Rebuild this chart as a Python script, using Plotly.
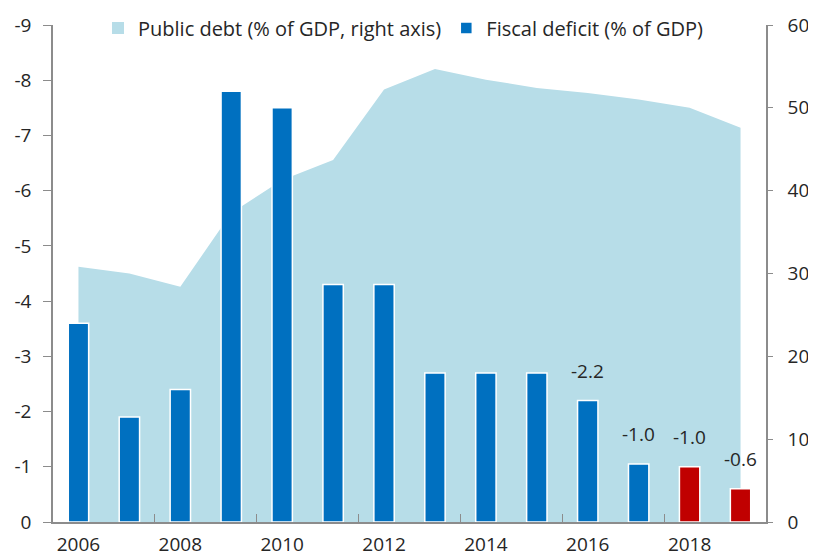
import plotly.graph_objects as go

years = list(range(2006, 2020))
debt = [30.8, 30.0, 28.4, 37.3, 41.3, 43.7, 52.2, 54.7, 53.4, 52.4, 51.8, 51.0, 50.0, 47.6]
deficit = [-3.6, -1.9, -2.4, -7.8, -7.5, -4.3, -4.3, -2.7, -2.7, -2.7, -2.2, -1.05, -1.0, -0.6]
deficit_labels = ["", "", "", "", "", "", "", "", "", "", "-2.2", "-1.0", "-1.0", "-0.6"]
forecast_years = [2018, 2019]
left_ticks = [0, -1, -2, -3, -4, -5, -6, -7, -8, -9]
right_ticks = [0, 10, 20, 30, 40, 50, 60]
x_labels = [2006, 2008, 2010, 2012, 2014, 2016, 2018]

FONT = "Open Sans"
TXT = "#262626"
AXC = "#8C8C8C"
DEBT_C = "#B7DDE8"

blue_x = [y for y in years if y not in forecast_years]
red_x = [y for y in years if y in forecast_years]
blue_v = [v for y, v in zip(years, deficit) if y not in forecast_years]
red_v = [v for y, v in zip(years, deficit) if y in forecast_years]

fig = go.Figure()
fig.add_trace(go.Scatter(
    x=years, y=debt, mode="lines", fill="tozeroy",
    fillcolor=DEBT_C, line=dict(width=0, color=DEBT_C),
    name="Public debt (% of GDP, right axis)", yaxis="y", showlegend=False,
))
# legend-only entry so the debt key is a square like the original
fig.add_trace(go.Bar(
    x=[None], y=[None], marker=dict(color=DEBT_C),
    name="Public debt (% of GDP, right axis)", yaxis="y",
))
fig.add_trace(go.Bar(
    x=blue_x, y=blue_v,
    marker=dict(color="#0070C0", line=dict(color="white", width=1.5)),
    width=0.4, name="Fiscal deficit (% of GDP)", yaxis="y2",
))
fig.add_trace(go.Bar(
    x=red_x, y=red_v,
    marker=dict(color="#C00000", line=dict(color="white", width=1.5)),
    width=0.4, name="Forecast", showlegend=False, yaxis="y2",
))

for yr, v, t in zip(years, deficit, deficit_labels):
    if t:
        fig.add_annotation(
            x=yr, y=v, xref="x", yref="y2", text=t, showarrow=False,
            yanchor="bottom", yshift=15,
            font=dict(family=FONT, size=19, color=TXT),
        )

# page body has an 8px margin: shrink the figure so the plot lands where the original's does
fig.update_layout(
    template="none",
    width=808, height=552,
    margin=dict(l=45, r=50, t=17, b=38, autoexpand=False),
    plot_bgcolor="white", paper_bgcolor="white",
    barmode="overlay",
    font=dict(family=FONT, size=19, color=TXT),
    showlegend=True,
    legend=dict(orientation="h", x=(98 - 53) / 713, xanchor="left",
                y=(522 - 28) / 497, yanchor="middle",
                bgcolor="rgba(0,0,0,0)", font=dict(size=20, color=TXT),
                traceorder="normal", itemwidth=30),
    xaxis=dict(
        range=[2005.5, 2019.5], tickmode="array", tickvals=x_labels,
        ticktext=[str(v) for v in x_labels], ticks="", automargin=False,
        showline=True, linecolor=AXC, linewidth=1.5, ticklabelstandoff=4,
        showgrid=False, zeroline=False,
        minor=dict(tickmode="array", tickvals=[2007.5, 2009.5, 2011.5, 2013.5, 2015.5, 2017.5],
                   ticks="inside", ticklen=8, tickcolor=AXC, tickwidth=1, showgrid=False),
    ),
    yaxis=dict(
        side="right", range=[0, 60], tickmode="array", tickvals=right_ticks,
        ticks="outside", ticklen=5, tickcolor=AXC, automargin=False,
        showline=True, linecolor=AXC, linewidth=1.5,
        showgrid=False, zeroline=False, ticklabelstandoff=11,
    ),
    yaxis2=dict(
        side="left", overlaying="y", range=[0, -9], tickmode="array", tickvals=left_ticks,
        ticktext=[str(v) for v in left_ticks], automargin=False,
        ticks="outside", ticklen=8, tickcolor=AXC,
        showline=True, linecolor=AXC, linewidth=1.5,
        showgrid=False, zeroline=False, ticklabelstandoff=8,
    ),
)

fig.write_html("out.html")
